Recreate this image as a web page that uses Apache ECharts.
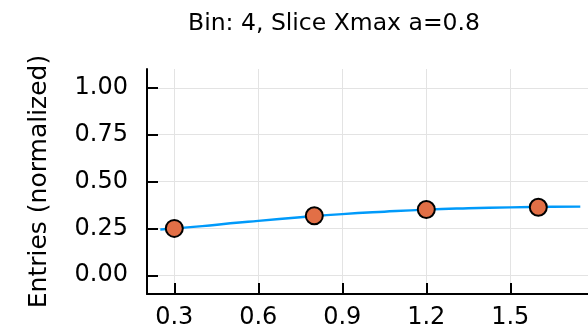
<!DOCTYPE html>
<html>
<head>
<meta charset="utf-8">
<script src="https://cdn.jsdelivr.net/npm/echarts@6/dist/echarts.min.js"></script>
<style>
  html, body { margin: 0; padding: 0; background: #fff; }
  #chart { width: 588px; height: 331px; }
</style>
</head>
<body>
<div id="chart"></div>
<script>
// Measured entries per bin
const pointX = [0.3, 0.8, 1.2, 1.6];
const pointY = [0.25, 0.317, 0.351, 0.363];

// Fitted curve
const fitX = [0.25, 0.4, 0.5, 0.6, 0.75, 0.9, 1.05, 1.2, 1.35, 1.5, 1.65, 1.75];
const fitY = [0.244, 0.262, 0.277, 0.290, 0.309, 0.326, 0.339, 0.350, 0.357, 0.362, 0.365, 0.366];

// Tick positions
const xTicks = [0.3, 0.6, 0.9, 1.2, 1.5];
const yTicks = [0, 0.25, 0.5, 0.75, 1.0];

const FONT = 'DejaVu Sans';
const chart = echarts.init(document.getElementById('chart'), null, { renderer: 'canvas' });

chart.setOption({
  animation: false,
  backgroundColor: '#ffffff',
  title: {
    text: 'Bin: 4, Slice Xmax a=0.8',
    left: 329,
    top: 7,
    textAlign: 'center',
    textStyle: { fontFamily: FONT, fontSize: 23.5, fontWeight: 'normal', color: '#000' }
  },
  grid: { left: 147, right: 0, top: 69, bottom: 37, containLabel: false },
  xAxis: {
    type: 'value',
    min: 0.2025,
    max: 1.7775,
    axisLine: { show: true, onZero: false, lineStyle: { color: '#000', width: 2 } },
    axisTick: { show: true, inside: true, length: 11, customValues: xTicks, lineStyle: { color: '#000', width: 2 } },
    axisLabel: {
      customValues: xTicks,
      margin: 12,
      fontFamily: FONT, fontSize: 24, color: '#000',
      formatter: v => v.toFixed(1)
    },
    splitLine: { show: true, lineStyle: { color: '#e3e3e3', width: 1 } }
  },
  yAxis: {
    type: 'value',
    min: -0.1,
    max: 1.1,
    name: 'Entries (normalized)',
    nameLocation: 'middle',
    nameGap: 95,
    nameTextStyle: { fontFamily: FONT, fontSize: 25, color: '#000' },
    axisLine: { show: true, onZero: false, lineStyle: { color: '#000', width: 2 } },
    axisTick: { show: true, inside: true, length: 11, customValues: yTicks, lineStyle: { color: '#000', width: 2 } },
    axisLabel: {
      customValues: yTicks,
      margin: 19,
      fontFamily: FONT, fontSize: 24, color: '#000',
      formatter: v => v.toFixed(2)
    },
    splitLine: { show: true, lineStyle: { color: '#e3e3e3', width: 1 } }
  },
  series: [
    {
      type: 'line',
      data: fitX.map((x, i) => [x, fitY[i]]),
      smooth: true,
      showSymbol: false,
      lineStyle: { color: '#009AFA', width: 2.5 },
      z: 2
    },
    {
      type: 'scatter',
      data: pointX.map((x, i) => [x, pointY[i]]),
      symbolSize: 17,
      itemStyle: { color: '#E26F46', borderColor: '#000', borderWidth: 2, opacity: 1 },
      z: 3
    }
  ]
});
</script>
</body>
</html>
